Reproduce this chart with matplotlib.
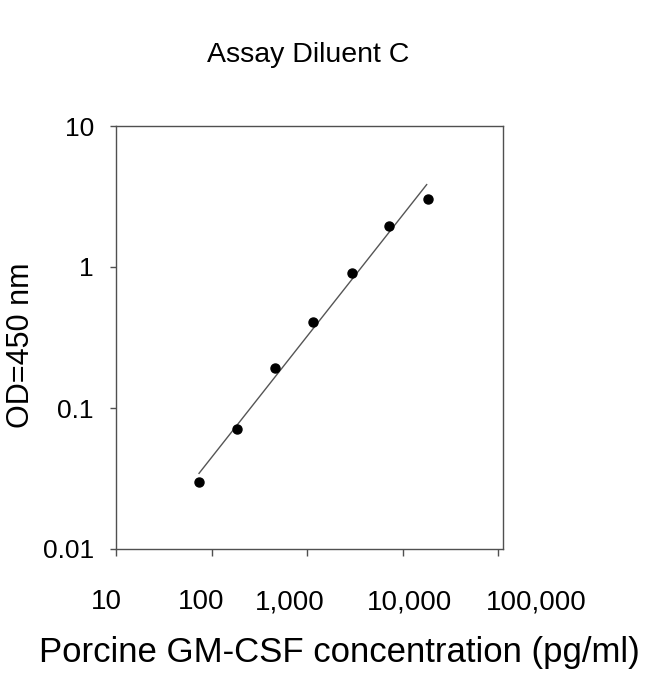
import numpy as np
import matplotlib
matplotlib.use('Agg')
import matplotlib.pyplot as plt
from matplotlib.transforms import ScaledTranslation

plt.rcParams['font.family'] = ['Liberation Sans', 'DejaVu Sans']

# standard curve points
conc = [74, 184, 462, 1164, 2938, 7278, 18360]     # pg/ml
od = [0.0297, 0.0706, 0.192, 0.405, 0.902, 1.95, 3.05]

# trend line end points
fit_x = [74, 17900]
fit_y = [0.0344, 3.84]

xticks = [10, 100, 1000, 10000, 100000]
xticklabels = ['10', '100', '1,000', '10,000', '100,000']
yticks = [0.01, 0.1, 1, 10]
yticklabels = ['0.01', '0.1', '1', '10']

fig = plt.figure(figsize=(6.5, 6.74), dpi=100)
ax = fig.add_axes([116/650, 1 - 549/674, 387/650, 423/674])

ax.plot(fit_x, fit_y, color='#555555', lw=1.0)
ax.plot(conc, od, 'o', color='black', ms=6.5)

ax.set_xscale('log')
ax.set_yscale('log')
ax.set_xlim(10, 10**5.052)
ax.set_ylim(0.01, 10)
ax.set_xticks(xticks)
ax.set_xticklabels(xticklabels)
ax.set_yticks(yticks)
ax.set_yticklabels(yticklabels)
ax.minorticks_off()

for s in ax.spines.values():
    s.set_color('#505050')
    s.set_linewidth(1.0)
ax.tick_params(axis='x', direction='out', length=5, width=1, color='#505050',
               labelsize=20, pad=24)
ax.tick_params(axis='y', direction='out', length=4, width=1, color='#505050',
               labelsize=19, pad=12)

# labels in the source sit a bit off their ticks
shifts = [-10, -10, -17, 7, 38]
for lab, dx in zip(ax.get_xticklabels(), shifts):
    lab.set_transform(lab.get_transform() + ScaledTranslation(dx / 100, 0, fig.dpi_scale_trans))

fig.text(308/650, 1 - 62/674, 'Assay Diluent C', ha='center', va='baseline', fontsize=20.5)
fig.text(339/650, 1 - 662/674, 'Porcine GM-CSF concentration (pg/ml)', ha='center',
         va='baseline', fontsize=25)
fig.text(21/650, 1 - 345/674, 'OD=450 nm', ha='center', va='center', rotation=90,
         fontsize=22)

fig.savefig('out.png', dpi=100)
